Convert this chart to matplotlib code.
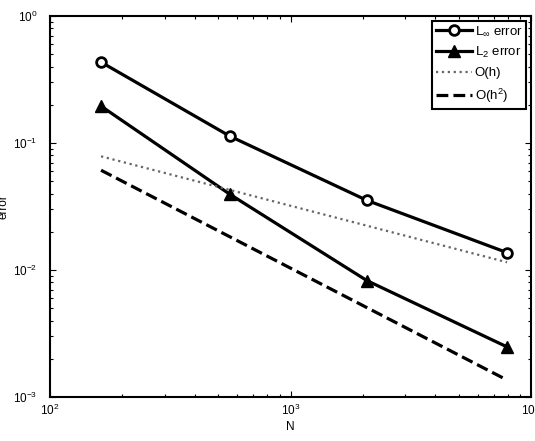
import matplotlib
matplotlib.use("Agg")
import matplotlib.pyplot as plt
import numpy as np

plt.rcParams["font.family"] = ["Liberation Sans", "DejaVu Sans"]
plt.rcParams["mathtext.fontset"] = "custom"
plt.rcParams["mathtext.rm"] = "Liberation Sans"
plt.rcParams["mathtext.it"] = "Liberation Sans"

# data
N = [163, 560, 2080, 7950]
err_inf = [0.433, 0.113, 0.0353, 0.0137]
err_2 = [0.195, 0.0394, 0.00824, 0.00248]
ref_N = [163, 7950]
ref_h = [0.0785, 0.0115]
ref_h2 = [0.061, 0.00136]

fig = plt.figure(figsize=(5.35, 4.41), dpi=100)
ax = fig.add_axes([0.0935, 0.0998, 0.899, 0.864])

ax.loglog(N, err_inf, "k-o", lw=2.3, ms=7, mfc="white", mew=2.0, label=r"L$_\infty$ error")
ax.loglog(N, err_2, "k-^", lw=2.3, ms=8, mfc="black", label=r"L$_2$ error")
ax.loglog(ref_N, ref_h, color="0.4", ls=":", lw=1.6, label="O(h)")
ax.loglog(ref_N, ref_h2, "k--", lw=2.3, label=r"O(h$^2$)")

ax.set_xlim(1e2, 1e4)
ax.set_ylim(1e-3, 1e0)
ax.set_xlabel("N", fontsize=8.5, labelpad=2)
ax.set_ylabel("error", fontsize=8.5, labelpad=3)
ax.tick_params(which="both", direction="in", top=True, right=True, labelsize=8.5, width=0.8)
ax.tick_params(which="major", length=4)
ax.tick_params(which="minor", length=2.5)
ax.tick_params(axis="y", pad=9)
ax.tick_params(axis="x", pad=4)
for s in ax.spines.values():
    s.set_linewidth(1.5)

leg = ax.legend(loc="upper right", fontsize=9.5, fancybox=False, framealpha=1,
                edgecolor="black", handlelength=2.7, handletextpad=0.2,
                borderpad=0.3, labelspacing=0.55, borderaxespad=0.35)
leg.get_frame().set_linewidth(1.5)

fig.savefig("out.png", dpi=100)
